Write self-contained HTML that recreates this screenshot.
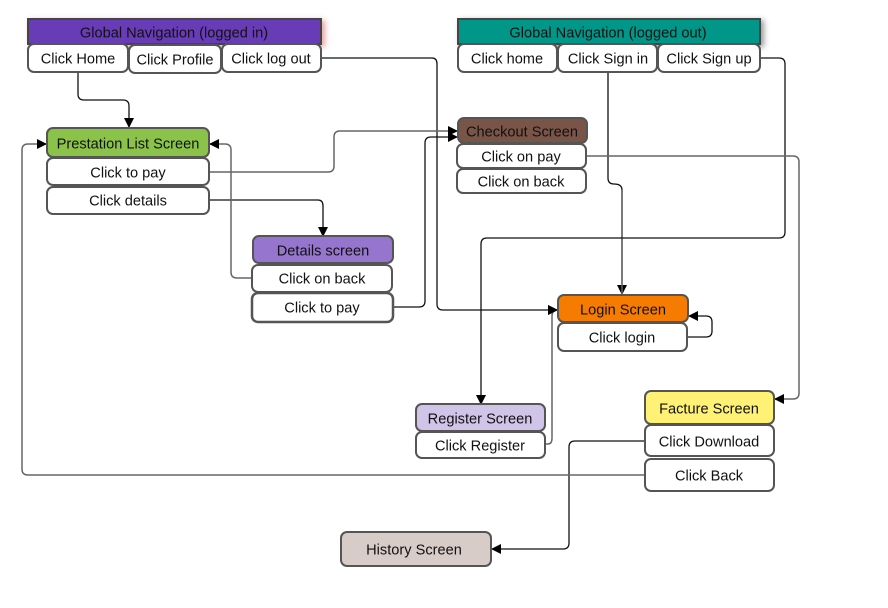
<!DOCTYPE html>
<html><head><meta charset="utf-8"><style>
html,body{margin:0;padding:0;background:#fff;}
svg{display:block;font-family:"Liberation Sans",Arial,sans-serif;}
text{font-size:14.6px;fill:#111;text-anchor:middle;dominant-baseline:central;transform:translateY(1.5px);}
.b{fill:#fff;stroke:#555;stroke-width:2;}
.c{fill:none;stroke-width:1.3;}
.k{stroke:#111;}
.g{stroke:#666;stroke-width:1.5;}
</style></head><body>
<svg width="888" height="608" viewBox="0 0 888 608">
<defs>
<marker id="a" markerWidth="10" markerHeight="10" refX="9" refY="5" orient="auto" markerUnits="userSpaceOnUse"><path d="M0,0 L10,5 L0,10 z" fill="#000"/></marker>
<filter id="sh" x="-10%" y="-50%" width="120%" height="200%"><feDropShadow dx="3" dy="2" stdDeviation="3" flood-color="#c44" flood-opacity="0.5"/></filter>
<filter id="sh2" x="-10%" y="-50%" width="120%" height="200%"><feDropShadow dx="3" dy="2" stdDeviation="3" flood-color="#000" flood-opacity="0.4"/></filter>
</defs>

<path class="c k" d="M78,73 V94 Q78,100 84,100 H123 Q129,100 129,106 V127" marker-end="url(#a)"/>
<path class="c k" d="M321,58 H432 Q437,58 437,64 V304 Q437,310 443,310 H557" marker-end="url(#a)"/>
<path class="c g" d="M209,172 H328 Q334,172 334,166 V137 Q334,131 340,131 H457" marker-end="url(#a)"/>
<path class="c k" d="M209,200 H318 Q323,200 323,206 V236" marker-end="url(#a)"/>
<path class="c g" d="M253,278 H237 Q231,278 231,272 V150 Q231,144 225,144 H210" marker-end="url(#a)"/>
<path class="c k" d="M393,307 H419 Q425,307 425,301 V143 Q425,137 431,137 H457" marker-end="url(#a)"/>
<path class="c k" d="M608,72 V178 Q608,184 614,184 Q622,184 622,190 V294" marker-end="url(#a)"/>
<path class="c g" d="M622,190 V294"/>
<path class="c k" d="M760,58 H779 Q785,58 785,64 V232 Q785,238 779,238 H487 Q481,238 481,244 V404" marker-end="url(#a)"/>
<path class="c g" d="M587,156 H793 Q799,156 799,162 V393 Q799,399 793,399 H775" marker-end="url(#a)"/>
<path class="c k" d="M688,337 H706 Q712,337 712,331 V322 Q712,316 706,316 H689" marker-end="url(#a)"/>
<path class="c g" d="M545,444 H548 Q552,444 552,438 V316 Q552,310 557,310" marker-end="url(#a)"/>
<path class="c k" d="M645,441 H575 Q569,441 569,447 V543 Q569,549 563,549 H492" marker-end="url(#a)"/>
<path class="c g" d="M645,475 H28 Q22,475 22,469 V150 Q22,144 28,144 H46" marker-end="url(#a)"/>

<rect x="28" y="19" width="293" height="25" fill="#673AB7" stroke="#444" stroke-width="2" filter="url(#sh)"/>
<text x="174" y="32">Global Navigation (logged in)</text>
<rect class="b" x="28" y="44" width="100" height="28" rx="6"/><text x="78" y="58">Click Home</text>
<rect class="b" x="129" y="45" width="92" height="28" rx="6"/><text x="175" y="59">Click Profile</text>
<rect class="b" x="222" y="44" width="99" height="28" rx="6"/><text x="271" y="58">Click log out</text>

<rect x="458" y="19" width="302" height="25" fill="#009688" stroke="#444" stroke-width="2" filter="url(#sh2)"/>
<text x="608" y="32">Global Navigation (logged out)</text>
<rect class="b" x="458" y="44" width="99" height="28" rx="6"/><text x="507" y="58">Click home</text>
<rect class="b" x="558" y="44" width="99" height="28" rx="6"/><text x="608" y="58">Click Sign in</text>
<rect class="b" x="658" y="44" width="102" height="28" rx="6"/><text x="709" y="58">Click Sign up</text>

<rect x="47" y="128" width="162" height="29" rx="6" fill="#8BC34A" stroke="#555" stroke-width="2"/>
<text x="128" y="143">Prestation List Screen</text>
<rect class="b" x="47" y="158" width="162" height="27" rx="6"/><text x="128" y="172">Click to pay</text>
<rect class="b" x="47" y="187" width="162" height="27" rx="6"/><text x="128" y="200">Click details</text>

<rect x="253" y="236" width="140" height="27" rx="6" fill="#9575CD" stroke="#555" stroke-width="2"/>
<text x="323" y="250">Details screen</text>
<rect class="b" x="252" y="265" width="140" height="27" rx="6"/><text x="322" y="278">Click on back</text>
<rect class="b" x="252" y="293" width="141" height="29" rx="6" style="stroke-width:2.5"/><text x="322" y="307">Click to pay</text>

<rect x="458" y="118" width="129" height="25" rx="6" fill="#795548" stroke="#555" stroke-width="2"/>
<text x="522" y="131">Checkout Screen</text>
<rect class="b" x="457" y="144" width="129" height="24" rx="6"/><text x="521" y="156">Click on pay</text>
<rect class="b" x="457" y="169" width="129" height="24" rx="6"/><text x="521" y="181">Click on back</text>

<rect x="558" y="295" width="130" height="27" rx="6" fill="#F57C00" stroke="#555" stroke-width="2"/>
<text x="623" y="309">Login Screen</text>
<rect class="b" x="558" y="323" width="129" height="28" rx="6"/><text x="622" y="337">Click login</text>

<rect x="416" y="404" width="129" height="27" rx="6" fill="#D1C4E9" stroke="#555" stroke-width="2"/>
<text x="480" y="418">Register Screen</text>
<rect class="b" x="416" y="432" width="129" height="26" rx="6"/><text x="480" y="445">Click Register</text>

<rect x="645" y="391" width="129" height="33" rx="6" fill="#FFF176" stroke="#555" stroke-width="2"/>
<text x="709" y="408">Facture Screen</text>
<rect class="b" x="645" y="425" width="129" height="31" rx="6"/><text x="709" y="441">Click Download</text>
<rect class="b" x="645" y="459" width="129" height="32" rx="6"/><text x="709" y="475">Click Back</text>

<rect x="341" y="532" width="150" height="34" rx="6" fill="#D7CCC8" stroke="#555" stroke-width="2"/>
<text x="414" y="549">History Screen</text>
</svg>
</body></html>
